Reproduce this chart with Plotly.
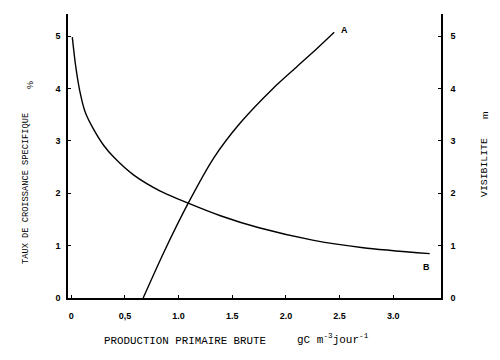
import plotly.graph_objects as go

# Curve A : visibility (m) vs gross primary production
a_x = [0.67, 0.86, 1.09, 1.33, 1.57, 1.88, 2.10, 2.29, 2.45]
a_y = [0.00, 0.86, 1.81, 2.68, 3.33, 4.00, 4.41, 4.76, 5.07]
# Curve B : specific growth rate (%) vs gross primary production
b_x = [0.01, 0.04, 0.08, 0.13, 0.20, 0.30, 0.40, 0.58, 0.83, 1.09, 1.39, 1.75, 2.26, 2.72, 3.34]
b_y = [4.98, 4.45, 3.95, 3.55, 3.25, 2.92, 2.68, 2.35, 2.04, 1.81, 1.57, 1.34, 1.10, 0.96, 0.846]

x_ticks = [0, 0.5, 1.0, 1.5, 2.0, 2.5, 3.0]
x_ticktext = ["0", "0,5", "1.0", "1.5", "2.0", "2.5", "3.0"]
y_ticks = [0, 1, 2, 3, 4, 5]
y_ticktext = ["0", "1", "2", "3", "4", "5"]

mono = "Liberation Mono"
sans = "Liberation Sans"

fig = go.Figure()
fig.add_trace(go.Scatter(x=a_x, y=a_y, mode="lines",
                         line=dict(color="black", width=1.4, shape="spline", smoothing=0.7),
                         showlegend=False, hoverinfo="skip"))
fig.add_trace(go.Scatter(x=b_x, y=b_y, mode="lines",
                         line=dict(color="black", width=1.4, shape="spline", smoothing=0.7),
                         showlegend=False, hoverinfo="skip"))
fig.add_trace(go.Scatter(x=[0], y=[0], yaxis="y2", mode="markers", marker=dict(opacity=0),
                         showlegend=False, hoverinfo="skip"))

axis_common = dict(showgrid=False, zeroline=False, showline=True, linecolor="black", linewidth=1.5,
                   ticks="inside", ticklen=3, tickcolor="black",
                   tickfont=dict(family=sans, size=9, color="black", weight="bold"))

fig.update_layout(
    width=500, height=360,
    margin=dict(l=68, r=59, t=14, b=62),
    paper_bgcolor="white", plot_bgcolor="white",
    xaxis=dict(range=[-0.03, 3.445], tickvals=x_ticks, ticktext=x_ticktext, ticklabelstandoff=8, **axis_common),
    yaxis=dict(range=[0, 5.42], tickvals=y_ticks, ticktext=y_ticktext, ticklabelstandoff=4, **axis_common),
    yaxis2=dict(range=[0, 5.42], overlaying="y", side="right", tickvals=y_ticks, ticktext=y_ticktext,
                ticklabelstandoff=6, **axis_common),
)

def px2paper(px, py):
    return (px - 68) / 373, (298 - py) / 284

anns = [
    ("TAUX DE CROISSANCE SPECIFIQUE", 26, 189, -90, mono, 8.7),
    ("%", 30, 85, -90, sans, 9),
    ("VISIBILITE", 485, 168, -90, mono, 9.8),
    ("m", 485, 115, -90, sans, 9),
    ("PRODUCTION PRIMAIRE BRUTE", 185, 341, 0, mono, 10.8),
    ("gC m<sup>-3</sup>jour<sup>-1</sup>", 333, 339, 0, mono, 11),
]
for text, px, py, ang, fam, sz in anns:
    xp, yp = px2paper(px, py)
    fig.add_annotation(text=text, x=xp, y=yp, xref="paper", yref="paper", showarrow=False,
                       textangle=ang, font=dict(family=fam, size=sz, color="black"),
                       xanchor="center", yanchor="middle")

fig.add_annotation(text="A", x=2.55, y=5.12, xref="x", yref="y", showarrow=False,
                   font=dict(family=sans, size=9, color="black", weight="bold"))
fig.add_annotation(text="B", x=3.31, y=0.59, xref="x", yref="y", showarrow=False,
                   font=dict(family=sans, size=9, color="black", weight="bold"))

fig.write_html("out.html", config={"displayModeBar": False},
               post_script="document.body.style.margin='0';document.body.style.overflow='hidden';")
